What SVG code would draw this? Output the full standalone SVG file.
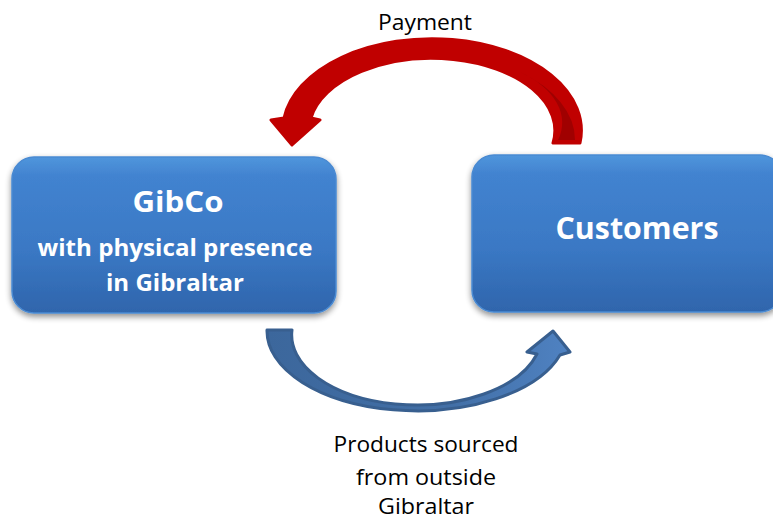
<svg xmlns="http://www.w3.org/2000/svg" width="773" height="520" viewBox="0 0 773 520">
<defs>
<linearGradient id="boxg" x1="0" y1="0" x2="0" y2="1">
<stop offset="0" stop-color="#5096DC"/>
<stop offset="0.12" stop-color="#4283D0"/>
<stop offset="0.6" stop-color="#3A78C4"/>
<stop offset="1" stop-color="#2F65AC"/>
</linearGradient>
<linearGradient id="blueg" x1="0" y1="0" x2="1" y2="0">
<stop offset="0" stop-color="#3C679C"/>
<stop offset="0.6" stop-color="#426FA6"/>
<stop offset="1" stop-color="#4F82C2"/>
</linearGradient>
<filter id="sh" x="-10%" y="-10%" width="120%" height="130%">
<feGaussianBlur in="SourceAlpha" stdDeviation="3"/>
<feOffset dx="0" dy="3" result="b"/>
<feComponentTransfer><feFuncA type="linear" slope="0.45"/></feComponentTransfer>
<feMerge><feMergeNode/><feMergeNode in="SourceGraphic"/></feMerge>
</filter>
</defs>
<style>
.box{fill:url(#boxg);stroke:#4A8AD2;stroke-width:1.5;filter:url(#sh)}
.t{font-family:"Open Sans","Liberation Sans",sans-serif;fill:#ffffff;font-weight:bold;text-anchor:middle}
.l{font-family:"Open Sans","Liberation Sans",sans-serif;fill:#000000;font-size:21px;text-anchor:middle}
</style>
<g id="connectors">
<g id="payment-arrow">
<path d="M580,143 A148,91 0 0 0 284,118 L271,120 L292,145 L320,120 L311,118 A121,71 0 0 1 553,143 Z" fill="#C00000" stroke="#C00000" stroke-width="3" stroke-linejoin="round"/>
<path d="M575,140 A143,86 0 0 0 520,72 A118,66 0 0 1 558,140 Z" fill="#A00000"/>
</g>
<g id="products-arrow">
<path d="M267,330 A150,80 0 0 0 560,355 L570,352 L553,331 L527,352 L537,354 A125,70 0 0 1 292,330 Z" fill="url(#blueg)" stroke="#385F8F" stroke-width="3" stroke-linejoin="round"/>
</g>
</g>
<g id="node-gibco">
<rect class="box" x="12" y="157" width="324" height="156" rx="22"/>
<text class="t" x="178" y="212" font-size="29" textLength="91" lengthAdjust="spacingAndGlyphs">GibCo</text>
<text class="t" x="175" y="256" font-size="23" textLength="275" lengthAdjust="spacingAndGlyphs">with physical presence</text>
<text class="t" x="175" y="291" font-size="23" textLength="138" lengthAdjust="spacingAndGlyphs">in Gibraltar</text>
</g>
<g id="node-customers">
<rect class="box" x="472" y="155" width="310" height="157" rx="22"/>
<text class="t" x="637" y="239" font-size="30" textLength="163" lengthAdjust="spacingAndGlyphs">Customers</text>
</g>
<g id="labels">
<text class="l" x="425" y="30" textLength="94" lengthAdjust="spacingAndGlyphs">Payment</text>
<text class="l" x="426" y="452" textLength="185" lengthAdjust="spacingAndGlyphs">Products sourced</text>
<text class="l" x="426" y="485" textLength="140" lengthAdjust="spacingAndGlyphs">from outside</text>
<text class="l" x="426" y="514" textLength="96" lengthAdjust="spacingAndGlyphs">Gibraltar</text>
</g>
</svg>
